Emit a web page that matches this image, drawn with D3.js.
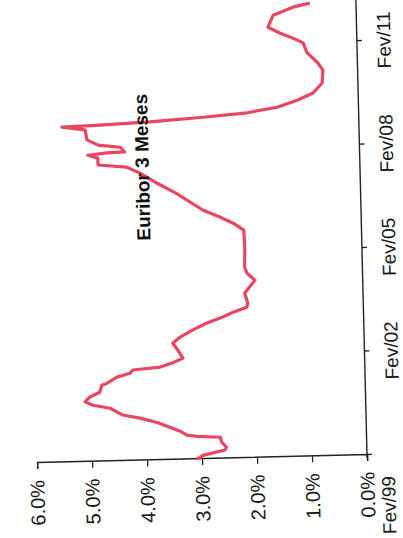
<!DOCTYPE html>
<html>
<head>
<meta charset="utf-8">
<script src="https://cdn.jsdelivr.net/npm/d3@7/dist/d3.min.js"></script>
<style>
  html, body { margin: 0; padding: 0; background: #fff; }
  svg { display: block; }
  text { font-family: "Liberation Sans", Arial, sans-serif; }
</style>
</head>
<body>
<script>
// ---- data ----
const title = "Euribor 3 Meses";
const dates = [
  "1999-02-01","1999-03-12","1999-05-01","1999-06-01","1999-07-01","1999-08-01","1999-09-15",
  "1999-10-01","1999-10-15","1999-12-01","2000-01-12","2000-03-06","2000-04-25","2000-06-01",
  "2000-08-15","2000-09-20","2000-10-28","2000-12-18","2001-02-03","2001-04-18","2001-05-06",
  "2001-07-09","2001-08-15","2001-09-18","2001-10-12","2001-11-21","2002-01-09","2002-04-03",
  "2002-06-18","2002-08-18","2002-11-01","2003-01-09","2003-02-27","2003-04-27","2003-06-15",
  "2003-07-27","2003-11-12","2004-03-24","2004-06-09","2004-08-12","2005-03-12","2005-09-09",
  "2005-11-24","2006-02-01","2006-04-18","2006-10-21","2007-02-12","2007-06-01","2007-08-06",
  "2007-09-06","2007-11-18","2007-12-21","2008-01-09","2008-01-15","2008-03-06","2008-04-03",
  "2008-06-01","2008-09-15","2008-10-21","2008-11-01","2008-11-21","2008-12-27","2009-02-01",
  "2009-03-24","2009-06-01","2009-08-12","2009-11-24","2010-04-09","2010-07-03","2010-10-12",
  "2011-01-27","2011-03-21","2011-05-15","2011-07-21","2011-11-24","2012-02-12","2012-03-21"
];
const values = [
  3.09,2.98,2.58,2.55,2.60,2.64,2.66,
  3.08,3.26,3.40,3.57,3.80,4.11,4.42,
  4.65,4.96,5.10,5.01,4.83,4.79,4.70,
  4.51,4.27,4.22,3.72,3.50,3.30,3.39,
  3.48,3.35,3.11,2.85,2.61,2.37,2.12,
  2.10,2.15,1.96,2.10,2.14,2.13,2.14,
  2.33,2.57,2.87,3.35,3.70,4.00,4.24,
  4.76,4.76,4.94,4.59,4.27,4.35,4.75,
  4.95,4.98,5.40,4.71,3.80,2.83,2.03,
  1.48,1.11,0.82,0.65,0.63,0.73,0.91,
  0.98,1.16,1.39,1.61,1.51,1.15,0.84
];
const valueTicks = [0, 1, 2, 3, 4, 5, 6];
const timeTicks = ["1999-02-01","2002-02-01","2005-02-01","2008-02-01","2011-02-01"];
const timeTickLabels = ["Fev/99","Fev/02","Fev/05","Fev/08","Fev/11"];

// ---- drawing ----
const W = 403, H = 538;
const parse = d3.timeParse("%Y-%m-%d");
const data = dates.map((d, i) => ({ date: parse(d), value: values[i] }));

const svg = d3.select("body").append("svg")
  .attr("width", W).attr("height", H);
svg.append("rect").attr("width", W).attr("height", H).attr("fill", "#fff");

// chart is drawn upright, then turned (the scan is rotated ~91.4°)
const g = svg.append("g").attr("transform", "translate(367,455) rotate(-91.4)");

const x = d3.scaleTime()
  .domain([parse(timeTicks[0]), parse(timeTicks[timeTicks.length - 1])])
  .range([0, 414]);
const y = d3.scaleLinear().domain([0, 6]).range([0, -330]);

// value axis
const yAxis = g.append("g")
  .call(d3.axisLeft(y).tickValues(valueTicks)
    .tickFormat(d => d.toFixed(1) + "%").tickSize(6).tickPadding(11));
yAxis.select(".domain").attr("stroke", "#222").attr("stroke-width", 1.4);
yAxis.selectAll(".tick line").attr("stroke", "#222").attr("stroke-width", 1.3);
yAxis.selectAll("text").attr("font-size", 20).attr("fill", "#1a1a1a")
  .attr("font-family", "'Liberation Sans', Arial, sans-serif");

// time axis
const xAxis = g.append("g")
  .call(d3.axisBottom(x).tickValues(timeTicks.map(parse))
    .tickFormat((d, i) => timeTickLabels[i]).tickSize(5).tickPadding(15));
xAxis.select(".domain").remove();
xAxis.selectAll(".tick line").attr("stroke", "#222").attr("stroke-width", 1.3);
xAxis.selectAll("text").attr("font-size", 19).attr("fill", "#1a1a1a")
  .attr("font-family", "'Liberation Sans', Arial, sans-serif");
xAxis.selectAll(".tick").filter((d, i) => i === 0).select("text")
  .attr("text-anchor", "end").attr("x", -22).attr("y", 14);
g.append("line")
  .attr("x1", -3).attr("x2", x(parse("2012-05-01")))
  .attr("y1", 0).attr("y2", 0)
  .attr("stroke", "#222").attr("stroke-width", 1.4);

// series
g.append("path")
  .datum(data)
  .attr("fill", "none")
  .attr("stroke", "#e9465f")
  .attr("stroke-width", 3.2)
  .attr("stroke-linejoin", "round")
  .attr("d", d3.line().x(d => x(d.date)).y(d => y(d.value)));

// title
g.append("text")
  .attr("x", x(parse("2007-08-01")))
  .attr("y", y(3.93))
  .attr("text-anchor", "middle")
  .attr("dominant-baseline", "middle")
  .attr("font-weight", "bold")
  .attr("font-size", 19)
  .attr("fill", "#111")
  .text(title);
</script>
</body>
</html>
